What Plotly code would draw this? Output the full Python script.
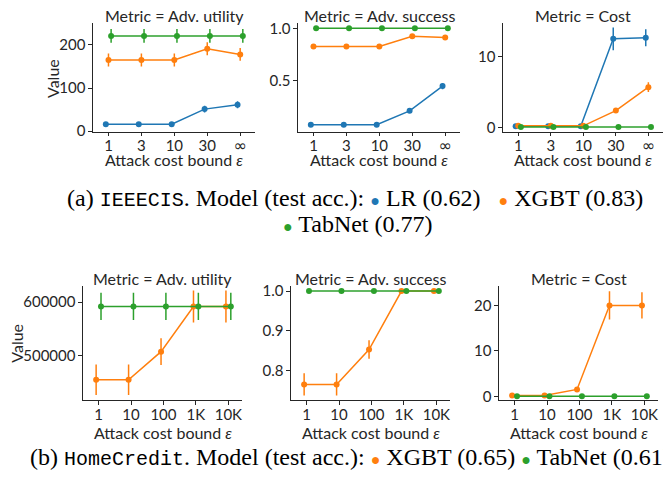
import plotly.graph_objects as go

W, H = 663, 486

# ---------------- data ----------------
top_cats = ["1", "3", "10", "30", "∞"]
bot_cats = ["1", "10", "100", "1K", "10K"]

# IEEECIS
util_lr = [16, 16, 16, 51, 61]
util_lr_err = [3, 3, 3, 8, 8]
util_xgbt = [165, 165, 165, 191, 178]
util_xgbt_err = [15, 15, 15, 15, 15]
util_tab = [221, 221, 221, 221, 221]
util_tab_err = [16, 16, 16, 16, 16]

succ_lr = [0.077, 0.077, 0.077, 0.21, 0.447]
succ_lr_err = [0.005, 0.005, 0.005, 0.02, 0.03]
succ_xgbt = [0.826, 0.826, 0.826, 0.925, 0.913]
succ_xgbt_err = [0.008, 0.008, 0.008, 0.008, 0.008]
succ_tab = [1.0, 1.0, 1.0, 1.0, 1.0]
succ_tab_err = [0.0, 0.0, 0.0, 0.0, 0.0]

cost_lr = [0.2, 0.2, 0.2, 12.5, 12.65]
cost_lr_err = [0.05, 0.05, 0.05, 1.6, 1.2]
cost_xgbt = [0.25, 0.25, 0.25, 2.4, 5.7]
cost_xgbt_err = [0.05, 0.05, 0.05, 0.35, 0.7]
cost_tab = [0.1, 0.1, 0.1, 0.1, 0.1]
cost_tab_err = [0.0, 0.0, 0.0, 0.0, 0.0]

# HomeCredit
hc_util_xgbt = [454500, 454500, 507300, 592000, 592000]
hc_util_xgbt_err = [28500, 28500, 25000, 30000, 30000]
hc_util_tab = [592000, 592000, 592000, 592000, 592000]
hc_util_tab_err = [25500, 25500, 25500, 25500, 25500]

hc_succ_xgbt = [0.765, 0.765, 0.853, 1.0, 1.0]
hc_succ_xgbt_err = [0.028, 0.028, 0.023, 0.0, 0.0]
hc_succ_tab = [1.0, 1.0, 1.0, 1.0, 1.0]
hc_succ_tab_err = [0.0, 0.0, 0.0, 0.0, 0.0]

hc_cost_xgbt = [0.2, 0.2, 1.55, 20, 20]
hc_cost_xgbt_err = [0.05, 0.05, 0.2, 3.1, 2.9]
hc_cost_tab = [0.05, 0.05, 0.05, 0.05, 0.05]
hc_cost_tab_err = [0.0, 0.0, 0.0, 0.0, 0.0]

metric_titles = ["Metric = Adv. utility", "Metric = Adv. success", "Metric = Cost"]

C_LR, C_XG, C_TN = "#1f77b4", "#ff7f0e", "#2ca02c"
INK = "#262626"
SANS = "Lato"

# ---------------- layout geometry (pixels) ----------------
def px(x):
    return x / W

def py(y):
    return 1 - y / H

top_dom_x = [(93, 255), (298, 460), (503, 663)]
bot_dom_x = [(83, 242), (291, 450), (499, 658)]
top_dom_y = (130, 18)
bot_dom_y = (406, 289)

top_xr = [-0.47, 4.45]
bot_xr = [-0.48, 4.42]

top_yr = [[-1, 252], [0.012, 1.056], [-0.55, 14.8]]
bot_yr = [[416400, 629800], [0.7256, 1.012], [-0.8, 24.2]]
top_yt = [[0, 100, 200], [0.5, 1.0], [0, 10]]
bot_yt = [[500000, 600000], [0.8, 0.9, 1.0], [0, 10, 20]]
top_ytxt = [["0", "100", "200"], ["0.5", "1.0"], ["0", "10"]]
bot_ytxt = [["500000", "600000"], ["0.8", "0.9", "1.0"], ["0", "10", "20"]]

fig = go.Figure()


def add_series(idx, vals, errs, color, offset):
    xs = [i + offset for i in range(len(vals))]
    fig.add_trace(go.Scatter(
        x=xs, y=vals,
        mode="lines+markers",
        line=dict(color=color, width=1.5),
        marker=dict(color=color, size=6),
        error_y=dict(type="data", array=errs, visible=True,
                     color=color, thickness=1.5, width=0),
        xaxis="x" if idx == 1 else f"x{idx}",
        yaxis="y" if idx == 1 else f"y{idx}",
        showlegend=False, hoverinfo="skip",
    ))


d3 = 0.08
top_series = [
    [(util_lr, util_lr_err), (util_xgbt, util_xgbt_err), (util_tab, util_tab_err)],
    [(succ_lr, succ_lr_err), (succ_xgbt, succ_xgbt_err), (succ_tab, succ_tab_err)],
    [(cost_lr, cost_lr_err), (cost_xgbt, cost_xgbt_err), (cost_tab, cost_tab_err)],
]
for k, ser in enumerate(top_series):
    for (v, e), c, off in zip(ser, [C_LR, C_XG, C_TN], [-d3, 0, d3]):
        add_series(k + 1, v, e, c, off)

d2 = 0.075
bot_series = [
    [(hc_util_xgbt, hc_util_xgbt_err), (hc_util_tab, hc_util_tab_err)],
    [(hc_succ_xgbt, hc_succ_xgbt_err), (hc_succ_tab, hc_succ_tab_err)],
    [(hc_cost_xgbt, hc_cost_xgbt_err), (hc_cost_tab, hc_cost_tab_err)],
]
for k, ser in enumerate(bot_series):
    for (v, e), c, off in zip(ser, [C_XG, C_TN], [-d2, d2]):
        add_series(k + 4, v, e, c, off)

axis_common = dict(showline=True, linecolor=INK, linewidth=1.1, showgrid=False,
                   zeroline=False, ticks="outside", ticklen=3.5, tickwidth=1,
                   tickcolor=INK, tickfont=dict(family=SANS, size=15, color=INK))


def tick_label(t):
    if t == "∞":
        return '<span style="font-family:DejaVu Sans;font-size:16px">∞</span>'
    return t


layout = {}
annotations = []
for k in range(6):
    i = k + 1
    sx = "" if i == 1 else str(i)
    if k < 3:
        dx, dy = top_dom_x[k], top_dom_y
        xr, yr = top_xr, top_yr[k]
        cats, yt, ytt = top_cats, top_yt[k], top_ytxt[k]
    else:
        dx, dy = bot_dom_x[k - 3], bot_dom_y
        xr, yr = bot_xr, bot_yr[k - 3]
        cats, yt, ytt = bot_cats, bot_yt[k - 3], bot_ytxt[k - 3]
    layout["xaxis" + sx] = dict(axis_common, domain=[px(dx[0]), px(dx[1])], range=xr,
                                anchor="y" + sx, tickvals=list(range(len(cats))),
                                ticktext=[tick_label(c) for c in cats],
                                ticklabelstandoff=-3)
    layout["yaxis" + sx] = dict(axis_common, domain=[py(dy[0]), py(dy[1])], range=yr,
                                anchor="x" + sx, tickvals=yt, ticktext=ytt)
    cx = (dx[0] + dx[1]) / 2
    ty = 11 if k < 3 else 281
    xty = 159 if k < 3 else 439
    annotations.append(dict(text=metric_titles[k % 3], x=px(cx), y=py(ty), xref="paper",
                            yref="paper", showarrow=False, xanchor="center", yanchor="middle",
                            font=dict(family=SANS, size=16, color=INK)))
    annotations.append(dict(text="Attack cost bound <i>ε</i>", x=px(cx), y=py(xty),
                            xref="paper", yref="paper", showarrow=False, xanchor="center",
                            yanchor="middle", font=dict(family=SANS, size=16, color=INK)))

annotations.append(dict(text="Value", x=px(53), y=py(75), xref="paper", yref="paper",
                        showarrow=False, textangle=-90, xanchor="center", yanchor="middle",
                        font=dict(family=SANS, size=16, color=INK)))
annotations.append(dict(text="Value", x=px(17), y=py(348), xref="paper", yref="paper",
                        showarrow=False, textangle=-90, xanchor="center", yanchor="middle",
                        font=dict(family=SANS, size=16, color=INK)))


def dot(c):
    return f'<span style="color:{c};font-size:16px">●</span>'


MONO = "font-family:Liberation Mono;font-size:20px"
cap_a1 = (f'(a) <span style="{MONO}">IEEECIS</span>. Model (test acc.): '
          f'{dot(C_LR)} LR (0.62)&nbsp;&nbsp; {dot(C_XG)} XGBT (0.83)')
cap_a2 = f'{dot(C_TN)} TabNet (0.77)'
cap_b = (f'(b) <span style="{MONO}">HomeCredit</span>. Model (test acc.): '
         f'{dot(C_XG)} XGBT (0.65) {dot(C_TN)} TabNet (0.61)')
SERIF = dict(family="Liberation Serif", size=24, color="black")
annotations.append(dict(text=cap_a1, x=px(355), y=py(199), xref="paper", yref="paper",
                        showarrow=False, xanchor="center", yanchor="middle", font=SERIF))
annotations.append(dict(text=cap_a2, x=px(358), y=py(225), xref="paper", yref="paper",
                        showarrow=False, xanchor="center", yanchor="middle", font=SERIF))
annotations.append(dict(text=cap_b, x=px(28), y=py(465), xref="paper", yref="paper",
                        showarrow=False, xanchor="left", yanchor="middle", font=SERIF))

fig.update_layout(
    width=W, height=H, margin=dict(l=0, r=0, t=0, b=0),
    paper_bgcolor="white", plot_bgcolor="white",
    annotations=annotations, **layout,
)

fig.write_html("out.html")
